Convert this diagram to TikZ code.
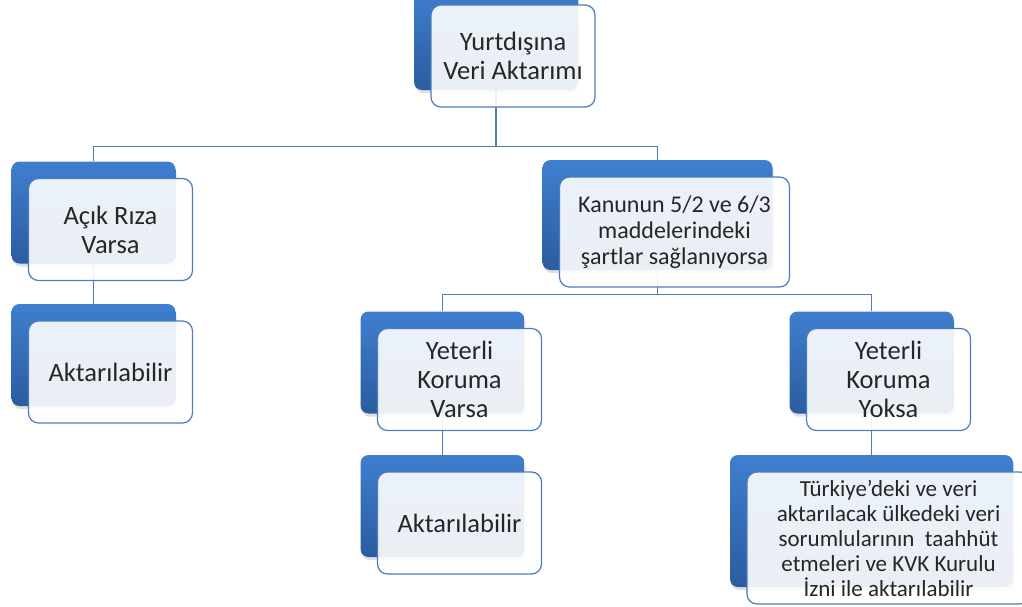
\documentclass[tikz,border=0pt]{standalone}
\usepackage{fontspec}
\setmainfont{Carlito}
\usetikzlibrary{positioning, shadows}
\definecolor{boxTop}{HTML}{3F7FCF}
\definecolor{boxBottom}{HTML}{2B5C9F}
\definecolor{edgeBlue}{HTML}{4A7EBB}
\tikzstyle{back} = [rectangle, rounded corners=8pt, minimum width=164pt, minimum height=102pt, top color=boxTop, bottom color=boxBottom, draw=none, drop shadow={shadow xshift=1pt, shadow yshift=-3pt, opacity=0.25}]
\tikzstyle{front} = [rectangle, rounded corners=10pt, minimum width=164pt, minimum height=102pt, inner sep=0pt, align=center, draw=edgeBlue, line width=1.2pt, fill=white, fill opacity=0.9, text opacity=1, text=black!85, font=\fontsize{26.5}{29}\selectfont, xshift=17pt, yshift=-17pt]
\tikzstyle{link} = [draw=edgeBlue, line width=1.2pt]

\begin{document}
\begin{tikzpicture}[x=1pt, y=-1pt]
        \useasboundingbox (0,0) rectangle (1022,606);
        \node[back] (topB) at (496,39) {};
        \node[back] (rizaB) at (93.5,212.5) {};
        \node[back] (akt1B) at (93.5,355) {};
        \node[back, minimum width=230pt, minimum height=110pt] (kanunB) at (657.5,215) {};
        \node[back] (varsaB) at (442.5,362.5) {};
        \node[back] (akt2B) at (442.5,506) {};
        \node[back] (yoksaB) at (871.5,362.5) {};
        \node[back, minimum width=283pt, minimum height=132pt] (lastB) at (871.5,521) {};

        \draw[link] (topB.south) -- ++(0,56) -| (rizaB.north);
        \draw[link] (topB.south) -- ++(0,56) -| (kanunB.north);
        \draw[link] (rizaB.south) -- (akt1B.north);
        \draw[link] (kanunB.south) -- ++(0,24) -| (varsaB.north);
        \draw[link] (kanunB.south) -- ++(0,24) -| (yoksaB.north);
        \draw[link] (varsaB.south) -- (akt2B.north);
        \draw[link] (yoksaB.south) -- (lastB.north);

        \node[front] (top) at (topB) {Yurtdışına\\Veri Aktarımı};
        \node[front] (riza) at (rizaB) {Açık Rıza\\Varsa};
        \node[front] (akt1) at (akt1B) {Aktarılabilir};
        \node[front, minimum width=230pt, minimum height=110pt, font=\fontsize{24}{26}\selectfont] (kanun) at (kanunB) {Kanunun 5/2 ve 6/3\\maddelerindeki\\şartlar sağlanıyorsa};
        \node[front] (varsa) at (varsaB) {Yeterli\\Koruma\\Varsa};
        \node[front] (akt2) at (akt2B) {Aktarılabilir};
        \node[front] (yoksa) at (yoksaB) {Yeterli\\Koruma\\Yoksa};
        \node[front, minimum width=283pt, minimum height=132pt, font=\fontsize{23}{25}\selectfont] (last) at (lastB) {Türkiye'deki ve veri\\aktarılacak ülkedeki veri\\sorumlularının\ \ taahhüt\\etmeleri ve KVK Kurulu\\İzni ile aktarılabilir};
    \end{tikzpicture}
\end{document}
